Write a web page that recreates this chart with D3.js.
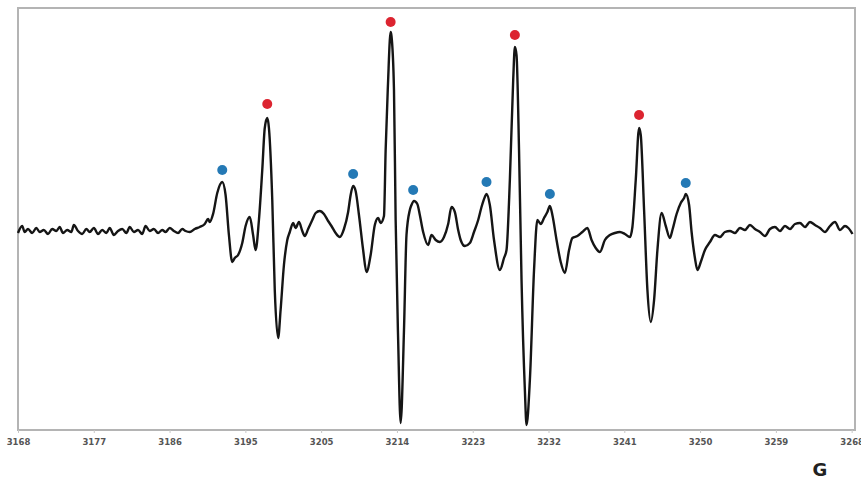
<!DOCTYPE html>
<html>
<head>
<meta charset="utf-8">
<script src="https://cdn.jsdelivr.net/npm/d3@7"></script>
<style>
  body { margin: 0; padding: 0; background: #fff; }
</style>
</head>
<body>
<svg class="spectrum"></svg>
<script>

// magnetic field (G) and signal (arb. units)
var fieldG = [
  3168.0, 3168.5, 3168.8, 3169.2, 3169.7, 3170.2, 3170.6, 3171.1, 3171.6, 3172.1,
  3172.6, 3173.0, 3173.4, 3173.9, 3174.4, 3174.7, 3175.2, 3175.7, 3176.2, 3176.6,
  3177.1, 3177.6, 3178.1, 3178.6, 3179.0, 3179.5, 3180.0, 3180.5, 3181.0, 3181.4,
  3181.9, 3182.4, 3182.9, 3183.3, 3183.8, 3184.3, 3184.8, 3185.3, 3185.7, 3186.2,
  3186.7, 3187.2, 3187.7, 3188.1, 3188.6, 3189.2, 3189.8, 3190.4, 3190.8, 3191.0,
  3191.4, 3191.9, 3192.5, 3192.9, 3193.3, 3193.7, 3194.0, 3194.4, 3194.9, 3195.3,
  3195.8, 3196.2, 3196.5, 3196.9, 3197.3, 3197.6, 3197.9, 3198.1, 3198.5, 3198.8,
  3199.2, 3199.5, 3199.9, 3200.3, 3200.6, 3201.0, 3201.3, 3201.7, 3202.1, 3202.4,
  3202.8, 3203.3, 3203.7, 3204.2, 3204.7, 3205.2, 3205.6, 3206.1, 3206.6, 3207.1,
  3207.6, 3207.9, 3208.2, 3208.5, 3208.9, 3209.4, 3209.8, 3210.3, 3210.8, 3211.2,
  3211.5, 3211.9, 3212.1, 3212.4, 3212.6, 3212.7, 3212.8, 3213.1, 3213.3, 3213.6,
  3213.9, 3214.3, 3214.6, 3215.0, 3215.2, 3215.5, 3215.9, 3216.2, 3216.6, 3217.2,
  3217.6, 3218.1, 3218.6, 3219.1, 3219.6, 3220.0, 3220.4, 3220.8, 3221.1, 3221.6,
  3222.2, 3222.7, 3223.2, 3223.6, 3224.0, 3224.2, 3224.6, 3225.1, 3225.8, 3226.3,
  3226.6, 3227.0, 3227.4, 3227.6, 3227.8, 3228.1, 3228.4, 3228.8, 3229.0, 3229.4,
  3229.9, 3230.3, 3230.7, 3231.1, 3231.5, 3231.8, 3232.1, 3232.6, 3233.1, 3233.6,
  3234.1, 3234.5, 3235.1, 3235.7, 3236.3, 3236.8, 3237.3, 3237.8, 3238.4, 3239.0,
  3239.6, 3240.2, 3240.8, 3241.4, 3241.7, 3242.1, 3242.5, 3242.7, 3243.1, 3243.5,
  3243.9, 3244.3, 3244.7, 3245.2, 3245.7, 3246.2, 3246.5, 3247.0, 3247.5, 3247.9,
  3248.1, 3248.5, 3248.8, 3249.2, 3249.5, 3249.9, 3250.4, 3251.0, 3251.6, 3252.2,
  3252.8, 3253.4, 3254.0, 3254.6, 3255.2, 3255.8, 3256.4, 3257.0, 3257.6, 3258.2,
  3258.8, 3259.4, 3260.0, 3260.6, 3261.2, 3261.8, 3262.4, 3263.0, 3263.6, 3264.2,
  3264.8, 3265.4, 3266.0, 3266.6, 3267.2, 3267.6, 3268.1
];

var signal = [
  -3, 4, -2, 1, -3, 2, -2, 0, -4, 1,
  -1, 3, -3, 0, -2, 5, -1, -4, 1, -2,
  2, -4, 0, -3, 2, -5, -1, 1, -3, 3,
  -2, 0, -4, 4, -1, 1, -3, 0, -2, 2,
  -1, -3, 1, -1, -2, 1, 3, 6, 11, 8,
  16, 37, 48, 35, -5, -32, -28, -25, -13, 4,
  13, -5, -20, 10, 60, 102, 112, 102, 30, -60,
  -108, -80, -35, -10, -2, 7, 2, 8, -1, -6,
  1, 10, 17, 19, 16, 9, 4, -3, -7, 1,
  18, 35, 44, 39, 15, -20, -42, -25, 5, 12,
  7, 14, 80, 150, 190, 198, 194, 140, 10, -110,
  -193, -100, -5, 20, 25, 29, 26, 15, -2, -15,
  -5, -10, -12, -7, 6, 23, 18, 0, -10, -16,
  -13, -2, 10, 23, 33, 36, 25, -10, -40, -28,
  -20, 50, 150, 183, 175, 80, -50, -160, -195, -150,
  -40, 10, 6, 12, 18, 24, 15, -10, -32, -43,
  -20, -8, -6, -2, 2, -10, -18, -22, -10, -5,
  -3, -2, -4, -7, 3, 50, 102, 95, 20, -60,
  -92, -70, -20, 17, 4, -8, 0, 16, 27, 32,
  36, 25, -2, -28, -40, -32, -20, -12, -5, -7,
  -2, -1, -3, 2, 0, 5, 1, -2, -6, 1,
  3, -1, 4, 1, 6, 7, 3, 8, 5, 2,
  -2, 4, 8, 0, 4, 2, -4
];

// marked lines: red = main lines, blue = satellite lines
var redPeakField = [3197.9, 3212.7, 3227.6, 3242.5];
var redPeakLevel = [126, 208, 195, 115];
var bluePeakField = [3192.5, 3208.2, 3215.4, 3224.2, 3231.8, 3248.1];
var bluePeakLevel = [60, 56, 40, 48, 36, 47];

var tickLabels = ['3168', '3177', '3186', '3195', '3205', '3214',
                  '3223', '3232', '3241', '3250', '3259', '3268'];

var chartW = 861, chartH = 480;
var plotLeft = 18, plotRight = 855, plotTop = 8, plotBottom = 430;

var x = d3.scaleLinear().domain([3168, 3268.4]).range([plotLeft, plotRight]);
var y = d3.scaleLinear().domain([-200, 222]).range([plotBottom, plotTop]);

function svgSetup() {
  return d3.select('.spectrum')
    .attr('width', chartW)
    .attr('height', chartH)
    .style('display', 'block');
}

function drawFrame(svg) {
  svg.append('rect')
    .attr('x', plotLeft)
    .attr('y', plotTop)
    .attr('width', plotRight - plotLeft)
    .attr('height', plotBottom - plotTop)
    .attr('fill', 'none')
    .attr('stroke', '#b4b4b4')
    .attr('stroke-width', 2);
}

function drawAxis(svg) {
  var step = (3268 - 3168) / (tickLabels.length - 1);
  var ticks = tickLabels.map(function(d, i) { return 3168 + i * step; });

  var axis = svg.append('g')
    .attr('transform', 'translate(0,' + plotBottom + ')')
    .call(d3.axisBottom(x)
      .tickValues(ticks)
      .tickSize(3)
      .tickFormat(function(d, i) { return tickLabels[i]; }));

  axis.select('.domain').remove();
  axis.selectAll('line').attr('stroke', '#c8c8c8');
  axis.selectAll('text')
    .attr('dy', '1.05em')
    .style('font-family', 'DejaVu Sans')
    .style('font-size', '8.5px')
    .style('font-weight', 'bold')
    .style('fill', '#555');
}

function drawTrace(svg) {
  var points = fieldG.map(function(d, i) { return [d, signal[i]]; });
  var line = d3.line()
    .x(function(d) { return x(d[0]); })
    .y(function(d) { return y(d[1]); })
    .curve(d3.curveMonotoneX);

  svg.append('path')
    .datum(points)
    .attr('d', line)
    .attr('fill', 'none')
    .attr('stroke', '#151515')
    .attr('stroke-width', 2.4)
    .attr('stroke-linejoin', 'round');
}

function drawPeaks(svg, fields, levels, color) {
  svg.append('g')
    .selectAll('circle')
    .data(fields)
    .enter()
    .append('circle')
      .attr('cx', function(d) { return x(d); })
      .attr('cy', function(d, i) { return y(levels[i]); })
      .attr('r', 5)
      .attr('fill', color);
}

function drawUnit(svg) {
  svg.append('text')
    .attr('x', 820)
    .attr('y', 476)
    .attr('text-anchor', 'middle')
    .style('font-family', 'DejaVu Sans')
    .style('font-size', '18px')
    .style('font-weight', 'bold')
    .style('fill', '#222')
    .text('G');
}

function init() {
  var svg = svgSetup();
  drawFrame(svg);
  drawAxis(svg);
  drawTrace(svg);
  drawPeaks(svg, redPeakField, redPeakLevel, '#dc2430');
  drawPeaks(svg, bluePeakField, bluePeakLevel, '#2479b5');
  drawUnit(svg);
}

init();

</script>
</body>
</html>
